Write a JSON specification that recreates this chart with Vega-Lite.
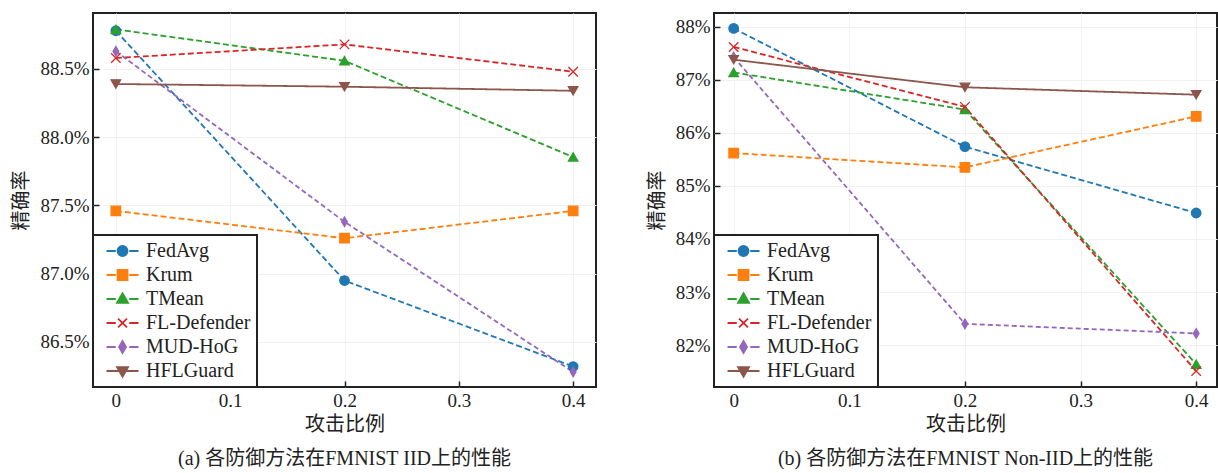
{
  "$schema": "https://vega.github.io/schema/vega-lite/v6.json",
  "padding": {"left": 10, "top": 12, "right": 0, "bottom": 0},
  "background": "white",
  "spacing": 49,
  "config": {
    "view": {"stroke": "#222", "strokeWidth": 2},
    "axis": {
      "labelFont": "Liberation Serif", "labelFontSize": 19, "labelColor": "#222",
      "titleFont": "Liberation Serif, Noto Sans CJK SC", "titleFontSize": 20, "titleFontWeight": "normal", "titleColor": "#222",
      "domain": false, "tickColor": "#222", "tickSize": -6, "tickWidth": 1.5, "labelPadding": 10,
      "gridColor": "#f1f1f1", "gridWidth": 1
    },
    "title": {"font": "Liberation Serif, Noto Sans CJK SC", "fontSize": 20, "fontWeight": "normal", "color": "#222"},
    "legend": {
      "labelFont": "Liberation Serif", "labelFontSize": 20, "labelColor": "#222",
      "strokeColor": "#222", "strokeWidth": 2, "fillColor": "white",
      "padding": 6, "rowPadding": 4, "labelOffset": 27, "symbolSize": 256, "cornerRadius": 0
    }
  },
  "datasets": {
    "iid": [
      {"method": "FedAvg", "ratio": 0, "acc": 88.78}, {"method": "FedAvg", "ratio": 0.2, "acc": 86.95}, {"method": "FedAvg", "ratio": 0.4, "acc": 86.32},
      {"method": "Krum", "ratio": 0, "acc": 87.46}, {"method": "Krum", "ratio": 0.2, "acc": 87.26}, {"method": "Krum", "ratio": 0.4, "acc": 87.46},
      {"method": "TMean", "ratio": 0, "acc": 88.79}, {"method": "TMean", "ratio": 0.2, "acc": 88.56}, {"method": "TMean", "ratio": 0.4, "acc": 87.855},
      {"method": "FL-Defender", "ratio": 0, "acc": 88.58}, {"method": "FL-Defender", "ratio": 0.2, "acc": 88.68}, {"method": "FL-Defender", "ratio": 0.4, "acc": 88.48},
      {"method": "MUD-HoG", "ratio": 0, "acc": 88.63}, {"method": "MUD-HoG", "ratio": 0.2, "acc": 87.38}, {"method": "MUD-HoG", "ratio": 0.4, "acc": 86.28},
      {"method": "HFLGuard", "ratio": 0, "acc": 88.39}, {"method": "HFLGuard", "ratio": 0.2, "acc": 88.37}, {"method": "HFLGuard", "ratio": 0.4, "acc": 88.34}
    ],
    "noniid": [
      {"method": "FedAvg", "ratio": 0, "acc": 87.97}, {"method": "FedAvg", "ratio": 0.2, "acc": 85.74}, {"method": "FedAvg", "ratio": 0.4, "acc": 84.49},
      {"method": "Krum", "ratio": 0, "acc": 85.62}, {"method": "Krum", "ratio": 0.2, "acc": 85.35}, {"method": "Krum", "ratio": 0.4, "acc": 86.31},
      {"method": "TMean", "ratio": 0, "acc": 87.14}, {"method": "TMean", "ratio": 0.2, "acc": 86.44}, {"method": "TMean", "ratio": 0.4, "acc": 81.64},
      {"method": "FL-Defender", "ratio": 0, "acc": 87.62}, {"method": "FL-Defender", "ratio": 0.2, "acc": 86.49}, {"method": "FL-Defender", "ratio": 0.4, "acc": 81.51},
      {"method": "MUD-HoG", "ratio": 0, "acc": 87.43}, {"method": "MUD-HoG", "ratio": 0.2, "acc": 82.4}, {"method": "MUD-HoG", "ratio": 0.4, "acc": 82.22},
      {"method": "HFLGuard", "ratio": 0, "acc": 87.38}, {"method": "HFLGuard", "ratio": 0.2, "acc": 86.86}, {"method": "HFLGuard", "ratio": 0.4, "acc": 86.72}
    ]
  },
  "resolve": {"scale": {"y": "independent"}, "legend": {"color": "independent"}},
  "hconcat": [
    {
      "width": 503, "height": 374,
      "data": {"name": "iid"},
      "title": {"text": "(a) 各防御方法在FMNIST IID上的性能", "orient": "bottom", "anchor": "middle", "offset": 15},
      "encoding": {
        "x": {"field": "ratio", "type": "quantitative", "scale": {"domain": [-0.02, 0.42], "nice": false, "zero": false},
              "axis": {"values": [0, 0.1, 0.2, 0.3, 0.4], "labelExpr": "datum.value == 0 ? '0' : format(datum.value, '.1f')", "title": "攻击比例", "titlePadding": 4}},
        "y": {"field": "acc", "type": "quantitative", "scale": {"domain": [86.17, 88.91], "nice": false, "zero": false},
              "axis": {"values": [86.5, 87, 87.5, 88, 88.5], "labelExpr": "format(datum.value, '.1f') + '%'", "title": "精确率", "titlePadding": 8}}
      },
      "layer": [
        {
          "mark": {"type": "line", "strokeWidth": 1.8},
          "encoding": {
            "color": {"field": "method", "type": "nominal",
              "scale": {"domain": ["FedAvg", "Krum", "TMean", "FL-Defender", "MUD-HoG", "HFLGuard"], "range": ["#1f77b4", "#ff7f0e", "#2ca02c", "#d62728", "#9467bd", "#8c564b"]},
              "legend": {"orient": "bottom-left", "offset": 0, "title": null,
                "encode": {"symbols": {"update": {
                  "shape": {"signal": "datum.value==='FedAvg' ? 'M-0.31,0L0.85,0M2.53,0L3.69,0M1.065,0A0.625,0.625,0,1,1,2.315,0A0.625,0.625,0,1,1,1.065,0Z' : datum.value==='Krum' ? 'M-0.31,0L0.85,0M2.53,0L3.69,0M1.065,-0.625L2.315,-0.625L2.315,0.625L1.065,0.625Z' : datum.value==='TMean' ? 'M-0.31,0L0.85,0M2.53,0L3.69,0M1.69,-0.72L2.38,0.48L1.0,0.48Z' : datum.value==='FL-Defender' ? 'M-0.31,0L0.85,0M2.53,0L3.69,0M1.13,-0.56L2.25,0.56M1.13,0.56L2.25,-0.56' : datum.value==='MUD-HoG' ? 'M-0.31,0L0.85,0M2.53,0L3.69,0M1.69,-0.75L2.13,0L1.69,0.75L1.25,0Z' : 'M-0.31,0L3.69,0M1.69,0.72L2.38,-0.48L1.0,-0.48Z'"},
                  "fill": {"signal": "datum.value==='FedAvg' ? '#1f77b4' : datum.value==='Krum' ? '#ff7f0e' : datum.value==='TMean' ? '#2ca02c' : datum.value==='FL-Defender' ? '#d62728' : datum.value==='MUD-HoG' ? '#9467bd' : '#8c564b'"},
                  "stroke": {"signal": "datum.value==='FedAvg' ? '#1f77b4' : datum.value==='Krum' ? '#ff7f0e' : datum.value==='TMean' ? '#2ca02c' : datum.value==='FL-Defender' ? '#d62728' : datum.value==='MUD-HoG' ? '#9467bd' : '#8c564b'"},
                  "strokeWidth": {"value": 1.8}, "strokeDash": {"value": []}, "size": {"value": 256}, "opacity": {"value": 1}, "fillOpacity": {"value": 1}
                }}}}},
            "strokeDash": {"field": "method", "type": "nominal",
              "scale": {"domain": ["FedAvg", "Krum", "TMean", "FL-Defender", "MUD-HoG", "HFLGuard"], "range": [[6, 3], [6, 3], [6, 3], [6, 3], [5, 3], [1, 0]]}, "legend": null}
          }
        },
        {
          "mark": {"type": "point", "filled": true, "opacity": 1, "strokeWidth": 1.3},
          "encoding": {
            "fill": {"field": "method", "type": "nominal", "scale": {"domain": ["FedAvg", "Krum", "TMean", "FL-Defender", "MUD-HoG", "HFLGuard"], "range": ["#1f77b4", "#ff7f0e", "#2ca02c", "#d62728", "#9467bd", "#8c564b"]}, "legend": null},
            "stroke": {"field": "method", "type": "nominal", "scale": {"domain": ["FedAvg", "Krum", "TMean", "FL-Defender", "MUD-HoG", "HFLGuard"], "range": ["#1f77b4", "#ff7f0e", "#2ca02c", "#d62728", "#9467bd", "#8c564b"]}, "legend": null},
            "shape": {"field": "method", "type": "nominal", "scale": {"domain": ["FedAvg", "Krum", "TMean", "FL-Defender", "MUD-HoG", "HFLGuard"], "range": ["circle", "square", "triangle-up", "M-1,-1L1,1M-1,1L1,-1", "M0,-1L0.6,0L0,1L-0.6,0Z", "triangle-down"]}, "legend": null},
            "size": {"field": "method", "type": "nominal", "scale": {"domain": ["FedAvg", "Krum", "TMean", "FL-Defender", "MUD-HoG", "HFLGuard"], "range": [90, 90, 100, 70, 144, 100]}, "legend": null}
          }
        }
      ]
    },
    {
      "width": 503, "height": 374,
      "data": {"name": "noniid"},
      "title": {"text": "(b) 各防御方法在FMNIST Non-IID上的性能", "orient": "bottom", "anchor": "middle", "offset": 15},
      "encoding": {
        "x": {"field": "ratio", "type": "quantitative", "scale": {"domain": [-0.017, 0.418], "nice": false, "zero": false},
              "axis": {"values": [0, 0.1, 0.2, 0.3, 0.4], "labelExpr": "datum.value == 0 ? '0' : format(datum.value, '.1f')", "title": "攻击比例", "titlePadding": 4}},
        "y": {"field": "acc", "type": "quantitative", "scale": {"domain": [81.21, 88.26], "nice": false, "zero": false},
              "axis": {"values": [82, 83, 84, 85, 86, 87, 88], "labelExpr": "format(datum.value, 'd') + '%'", "title": "精确率", "titlePadding": 8}}
      },
      "layer": [
        {
          "mark": {"type": "line", "strokeWidth": 1.8},
          "encoding": {
            "color": {"field": "method", "type": "nominal",
              "scale": {"domain": ["FedAvg", "Krum", "TMean", "FL-Defender", "MUD-HoG", "HFLGuard"], "range": ["#1f77b4", "#ff7f0e", "#2ca02c", "#d62728", "#9467bd", "#8c564b"]},
              "legend": {"orient": "bottom-left", "offset": 0, "title": null,
                "encode": {"symbols": {"update": {
                  "shape": {"signal": "datum.value==='FedAvg' ? 'M-0.31,0L0.85,0M2.53,0L3.69,0M1.065,0A0.625,0.625,0,1,1,2.315,0A0.625,0.625,0,1,1,1.065,0Z' : datum.value==='Krum' ? 'M-0.31,0L0.85,0M2.53,0L3.69,0M1.065,-0.625L2.315,-0.625L2.315,0.625L1.065,0.625Z' : datum.value==='TMean' ? 'M-0.31,0L0.85,0M2.53,0L3.69,0M1.69,-0.72L2.38,0.48L1.0,0.48Z' : datum.value==='FL-Defender' ? 'M-0.31,0L0.85,0M2.53,0L3.69,0M1.13,-0.56L2.25,0.56M1.13,0.56L2.25,-0.56' : datum.value==='MUD-HoG' ? 'M-0.31,0L0.85,0M2.53,0L3.69,0M1.69,-0.75L2.13,0L1.69,0.75L1.25,0Z' : 'M-0.31,0L3.69,0M1.69,0.72L2.38,-0.48L1.0,-0.48Z'"},
                  "fill": {"signal": "datum.value==='FedAvg' ? '#1f77b4' : datum.value==='Krum' ? '#ff7f0e' : datum.value==='TMean' ? '#2ca02c' : datum.value==='FL-Defender' ? '#d62728' : datum.value==='MUD-HoG' ? '#9467bd' : '#8c564b'"},
                  "stroke": {"signal": "datum.value==='FedAvg' ? '#1f77b4' : datum.value==='Krum' ? '#ff7f0e' : datum.value==='TMean' ? '#2ca02c' : datum.value==='FL-Defender' ? '#d62728' : datum.value==='MUD-HoG' ? '#9467bd' : '#8c564b'"},
                  "strokeWidth": {"value": 1.8}, "strokeDash": {"value": []}, "size": {"value": 256}, "opacity": {"value": 1}, "fillOpacity": {"value": 1}
                }}}}},
            "strokeDash": {"field": "method", "type": "nominal",
              "scale": {"domain": ["FedAvg", "Krum", "TMean", "FL-Defender", "MUD-HoG", "HFLGuard"], "range": [[6, 3], [6, 3], [6, 3], [6, 3], [5, 3], [1, 0]]}, "legend": null}
          }
        },
        {
          "mark": {"type": "point", "filled": true, "opacity": 1, "strokeWidth": 1.3},
          "encoding": {
            "fill": {"field": "method", "type": "nominal", "scale": {"domain": ["FedAvg", "Krum", "TMean", "FL-Defender", "MUD-HoG", "HFLGuard"], "range": ["#1f77b4", "#ff7f0e", "#2ca02c", "#d62728", "#9467bd", "#8c564b"]}, "legend": null},
            "stroke": {"field": "method", "type": "nominal", "scale": {"domain": ["FedAvg", "Krum", "TMean", "FL-Defender", "MUD-HoG", "HFLGuard"], "range": ["#1f77b4", "#ff7f0e", "#2ca02c", "#d62728", "#9467bd", "#8c564b"]}, "legend": null},
            "shape": {"field": "method", "type": "nominal", "scale": {"domain": ["FedAvg", "Krum", "TMean", "FL-Defender", "MUD-HoG", "HFLGuard"], "range": ["circle", "square", "triangle-up", "M-1,-1L1,1M-1,1L1,-1", "M0,-1L0.6,0L0,1L-0.6,0Z", "triangle-down"]}, "legend": null},
            "size": {"field": "method", "type": "nominal", "scale": {"domain": ["FedAvg", "Krum", "TMean", "FL-Defender", "MUD-HoG", "HFLGuard"], "range": [90, 90, 100, 70, 144, 100]}, "legend": null}
          }
        }
      ]
    }
  ]
}
